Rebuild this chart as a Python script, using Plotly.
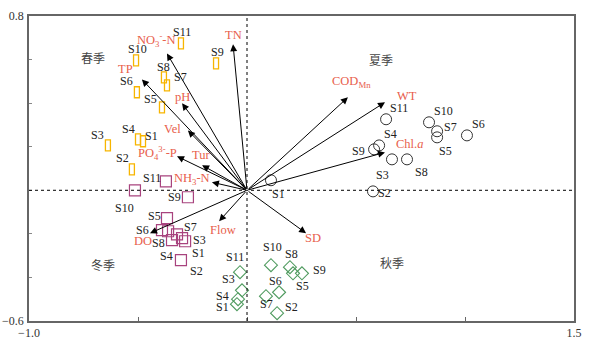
import plotly.graph_objects as go

# Site labels (S1..S11) shared by every season
sites = ["S%d" % i for i in range(1, 12)]

# Site scores per season (axis 1, axis 2)
spring_x = [-0.477, -0.528, -0.638, -0.500, -0.390, -0.505, -0.367, -0.381, -0.142, -0.509, -0.303]
spring_y = [0.225, 0.096, 0.206, 0.234, 0.381, 0.450, 0.482, 0.518, 0.583, 0.596, 0.674]

summer_x = [0.110, 0.578, 0.665, 0.606, 0.872, 1.009, 0.872, 0.734, 0.583, 0.835, 0.638]
summer_y = [0.046, -0.005, 0.142, 0.206, 0.243, 0.252, 0.271, 0.142, 0.188, 0.312, 0.326]

autumn_x = [-0.046, 0.138, -0.023, -0.041, 0.211, 0.147, 0.087, 0.197, 0.252, 0.110, -0.032]
autumn_y = [-0.523, -0.564, -0.459, -0.500, -0.381, -0.468, -0.486, -0.353, -0.381, -0.344, -0.376]

winter_x = [-0.298, -0.362, -0.284, -0.303, -0.367, -0.390, -0.321, -0.344, -0.271, -0.514, -0.372]
winter_y = [-0.220, -0.188, -0.234, -0.321, -0.128, -0.183, -0.202, -0.229, -0.032, 0.000, 0.041]

# Environmental variable vectors
env_names = ["TN", "NO<sub>3</sub><sup>-</sup>-N", "TP", "pH", "Vel",
             "PO<sub>4</sub><sup>3-</sup>-P", "Tur", "NH<sub>3</sub>-N", "DO", "Flow",
             "SD", "COD<sub>Mn</sub>", "WT", "Chl.<i>a</i>"]
env_x = [-0.064, -0.367, -0.482, -0.298, -0.271, -0.321, -0.206, -0.161, -0.445, -0.128,
         0.271, 0.463, 0.633, 0.633]
env_y = [0.670, 0.628, 0.509, 0.399, 0.275, 0.156, 0.115, 0.037, -0.197, -0.142,
         -0.197, 0.427, 0.404, 0.174]

# Season names and their positions in the biplot quadrants
season_names = ["春季", "夏季", "冬季", "秋季"]
season_x = [-0.706, 0.615, -0.661, 0.665]
season_y = [0.610, 0.601, -0.339, -0.330]

# Pixel offsets of the label text from each point / vector tip
spring_off = [(8, -5), (-9, -11), (-10, -10), (-10, -10), (-11, -8), (-10, -11),
              (14, -8), (0, -10), (1, -11), (1, -11), (1, -11)]
summer_off = [(8, 14), (11, 2), (-9, 16), (11, -11), (8, 14), (12, -11),
              (13, -4), (14, 13), (-16, 2), (14, -11), (13, -11)]
autumn_off = [(-14, 3), (14, -6), (-13, -11), (-16, -3), (9, 13), (-4, -11),
              (1, 8), (2, -13), (18, -3), (2, -18), (-5, -15)]
winter_off = [(16, 15), (28, 40), (14, -1), (-14, -4), (-12, -2), (-19, 0),
              (13, -7), (-14, 3), (-13, 0), (-10, 18), (-14, -3)]
env_off = [(0, -9), (-10, -13), (-16, -10), (0, -6), (-15, -1), (-20, -3), (-1, -10),
           (-20, -3), (-7, 8), (4, 9), (7, 5), (4, -15), (22, -6), (25, -8)]

SERIF = "Liberation Serif, Times New Roman, serif"
CJK = "Noto Sans CJK SC, sans-serif"
RED = "#E8604C"
ORANGE = "#F7B500"
PURPLE = "#A8437E"
GREEN = "#4E9A5E"
DARK = "#333333"

fig = go.Figure()

# Summer: open circles
fig.add_trace(go.Scatter(x=summer_x, y=summer_y, mode="markers",
                         marker=dict(symbol="circle-open", size=11,
                                     color=DARK, line=dict(width=1)),
                         hoverinfo="skip"))
# Winter: open squares
fig.add_trace(go.Scatter(x=winter_x, y=winter_y, mode="markers",
                         marker=dict(symbol="square-open", size=11,
                                     color=PURPLE, line=dict(width=1.2)),
                         hoverinfo="skip"))
# Autumn: open diamonds
fig.add_trace(go.Scatter(x=autumn_x, y=autumn_y, mode="markers",
                         marker=dict(symbol="diamond-open", size=10,
                                     color=GREEN, line=dict(width=1.1)),
                         hoverinfo="skip"))

shapes = []
# Spring: tall narrow open rectangles, sized in pixels and anchored at each point
for x, y in zip(spring_x, spring_y):
    shapes.append(dict(type="rect", xref="x", yref="y",
                       xsizemode="pixel", ysizemode="pixel",
                       xanchor=x, yanchor=y, x0=-2.5, x1=2.5, y0=-5.5, y1=5.5,
                       line=dict(color=ORANGE, width=1.3)))

# Dotted reference lines through the origin
shapes.append(dict(type="line", xref="x", yref="paper", x0=0, x1=0, y0=0, y1=1,
                   line=dict(color="black", width=1, dash="dot")))
shapes.append(dict(type="line", xref="paper", yref="y", x0=0, x1=1, y0=0, y1=0,
                   line=dict(color="black", width=1, dash="dot")))

annotations = []
# Environmental vectors
for x, y in zip(env_x, env_y):
    annotations.append(dict(x=x, y=y, ax=0, ay=0, xref="x", yref="y",
                            axref="x", ayref="y", text="", showarrow=True,
                            arrowhead=2, arrowsize=1.4, arrowwidth=1,
                            arrowcolor="black"))
for name, x, y, (dx, dy) in zip(env_names, env_x, env_y, env_off):
    annotations.append(dict(x=x, y=y, text=name, showarrow=False,
                            xshift=dx, yshift=-dy,
                            font=dict(family=SERIF, size=12.5, color=RED)))

# Site labels
for xs, ys, offs in [(spring_x, spring_y, spring_off), (summer_x, summer_y, summer_off),
                     (autumn_x, autumn_y, autumn_off), (winter_x, winter_y, winter_off)]:
    for s, x, y, (dx, dy) in zip(sites, xs, ys, offs):
        annotations.append(dict(x=x, y=y, text=s, showarrow=False,
                                xshift=dx, yshift=-dy,
                                font=dict(family=SERIF, size=12, color="#222222")))

# Season labels
for name, x, y in zip(season_names, season_x, season_y):
    annotations.append(dict(x=x, y=y, text=name, showarrow=False,
                            font=dict(family=CJK, size=12, color="#444444")))

x_ticks = [-1.0, -0.5, 0.0, 0.5, 1.0, 1.5]
x_text = ["\u22121.0", "", "", "", "", "1.5"]
y_ticks = [-0.6, -0.4, -0.2, 0.0, 0.2, 0.4, 0.6, 0.8]
y_text = ["\u22120.6", "", "", "", "", "", "", "0.8"]

fig.update_layout(
    width=592, height=348,
    margin=dict(l=29, r=18, t=16, b=27),
    paper_bgcolor="white", plot_bgcolor="white",
    showlegend=False,
    shapes=shapes,
    annotations=annotations,
    xaxis=dict(range=[-1.0, 1.5], showgrid=False, zeroline=False, automargin=False,
               showline=True, mirror=True, linecolor="#666666", linewidth=1.5,
               ticks="inside", ticklen=4, tickcolor="#666666",
               tickvals=x_ticks, ticktext=x_text,
               tickfont=dict(family=SERIF, size=12, color="#333333")),
    yaxis=dict(range=[-0.6, 0.8], showgrid=False, zeroline=False, automargin=False,
               showline=True, mirror=True, linecolor="#666666", linewidth=1.5,
               ticks="inside", ticklen=3, tickcolor="#888888",
               tickvals=y_ticks, ticktext=y_text, ticklabelstandoff=1,
               tickfont=dict(family=SERIF, size=12, color="#333333")),
)

fig.write_html("out.html")
